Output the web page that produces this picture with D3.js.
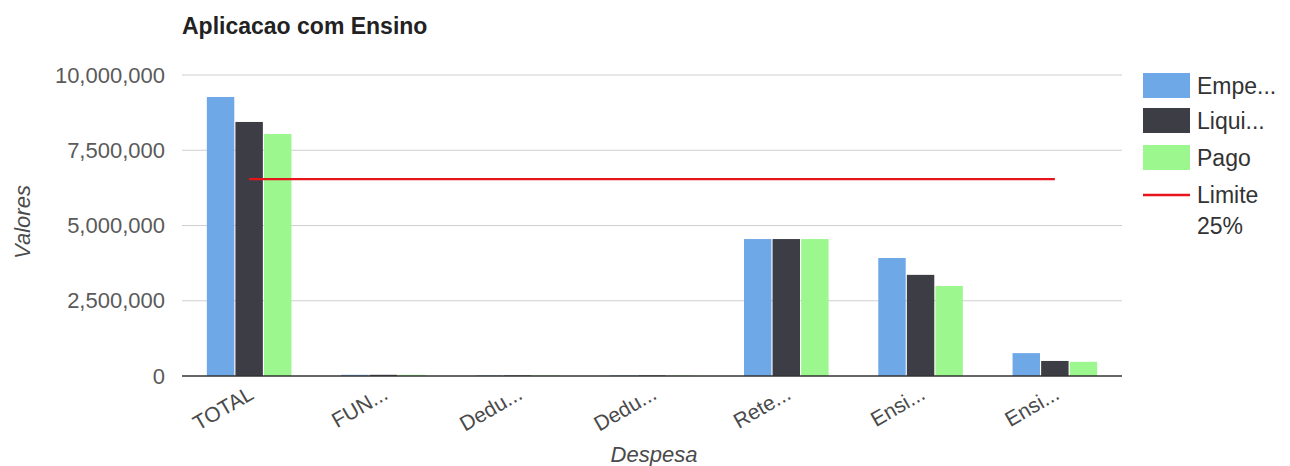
<!DOCTYPE html>
<html><head><meta charset="utf-8">
<script src="https://cdn.jsdelivr.net/npm/d3@7"></script>
<style>body{margin:0;background:#fff;}svg{display:block;font-family:"Liberation Sans",Arial,sans-serif;}</style>
</head><body><svg id="c" width="1290" height="466"></svg>
<script>
const categories = ["TOTAL","FUN...","Dedu...","Dedu...","Rete...","Ensi...","Ensi..."];
const seriesNames = ["Empe...","Liqui...","Pago"];
const empenhado = [9270000, 40000, 20000, 20000, 4550000, 3920000, 760000];
const liquidado = [8440000, 40000, 20000, 20000, 4550000, 3360000, 500000];
const pago = [8040000, 40000, 20000, 20000, 4550000, 2990000, 470000];
const limite = 6540000;
const yTicks = [0, 2500000, 5000000, 7500000, 10000000];
const colors = ["#6fa8e6", "#3d3d45", "#9cf78f"];
const limitColor = "#e8141c";

const svg = d3.select("#c");
const m = {l:182, r:1122, t:75, b:376};
const x = d3.scaleBand().domain(d3.range(categories.length)).range([m.l, m.r]).paddingInner(0.37).paddingOuter(0.185);
const xs = d3.scaleBand().domain(d3.range(3)).range([0, x.bandwidth()]).paddingInner(0.04);
const y = d3.scaleLinear().domain([0, 10000000]).range([m.b, m.t]);

// gridlines
svg.append("g").selectAll("line").data(yTicks.filter(d=>d>0)).join("line")
  .attr("x1", m.l).attr("x2", m.r).attr("y1", d=>y(d)).attr("y2", d=>y(d))
  .attr("stroke", "#cfcfcf").attr("stroke-width", 1.2);

// y labels
svg.append("g").selectAll("text").data(yTicks).join("text")
  .attr("x", 165).attr("y", d=>y(d)).attr("dy", "0.35em").attr("text-anchor","end")
  .attr("font-size", 22).attr("fill", "#5a5a5a").text(d=>d3.format(",")(d));

const series = [empenhado, liquidado, pago];
series.forEach((s, si) => {
  svg.append("g").selectAll("rect").data(s).join("rect")
    .attr("x", (d,i)=>x(i)+xs(si)).attr("width", xs.bandwidth())
    .attr("y", d=>y(d)).attr("height", d=>y(0)-y(d)).attr("fill", colors[si]);
});

// baseline
svg.append("line").attr("x1", m.l).attr("x2", m.r).attr("y1", y(0)).attr("y2", y(0))
  .attr("stroke", "#333").attr("stroke-width", 1.5);

// limit line from first to last category center
const cx = i => x(i) + x.bandwidth()/2;
svg.append("line").attr("x1", cx(0)).attr("x2", cx(categories.length-1))
  .attr("y1", y(limite)).attr("y2", y(limite)).attr("stroke", limitColor).attr("stroke-width", 2.2);

// x labels
svg.append("g").selectAll("text").data(categories).join("text")
  .attr("transform", (d,i)=>`translate(${cx(i)+6},${y(0)+22}) rotate(-30)`)
  .attr("text-anchor","end").attr("font-size", 21).attr("fill","#4a4a4a").text(d=>d);

// titles
svg.append("text").attr("x", 182).attr("y", 34).attr("font-size", 23).attr("font-weight","bold").attr("fill","#222").text("Aplicacao com Ensino");
svg.append("text").attr("transform", "translate(30,222) rotate(-90)").attr("text-anchor","middle")
  .attr("font-size", 22).attr("font-style","italic").attr("fill","#4a4a4a").text("Valores");
svg.append("text").attr("x", 654).attr("y", 462).attr("text-anchor","middle")
  .attr("font-size", 22).attr("font-style","italic").attr("fill","#4a4a4a").text("Despesa");

// legend
const lg = svg.append("g");
const ly = [73, 108, 145];
seriesNames.forEach((n, i) => {
  lg.append("rect").attr("x", 1143).attr("y", ly[i]).attr("width", 47).attr("height", 25).attr("fill", colors[i]);
  lg.append("text").attr("x", 1197).attr("y", ly[i]+12.5).attr("dy","0.35em").attr("font-size", 23).attr("fill","#333").text(n);
});
lg.append("line").attr("x1",1143).attr("x2",1190).attr("y1",195).attr("y2",195).attr("stroke",limitColor).attr("stroke-width",2.5);
lg.append("text").attr("x",1197).attr("y",195).attr("dy","0.35em").attr("font-size",23).attr("fill","#333").text("Limite");
lg.append("text").attr("x",1197).attr("y",226).attr("dy","0.35em").attr("font-size",23).attr("fill","#333").text("25%");
</script></body></html>
